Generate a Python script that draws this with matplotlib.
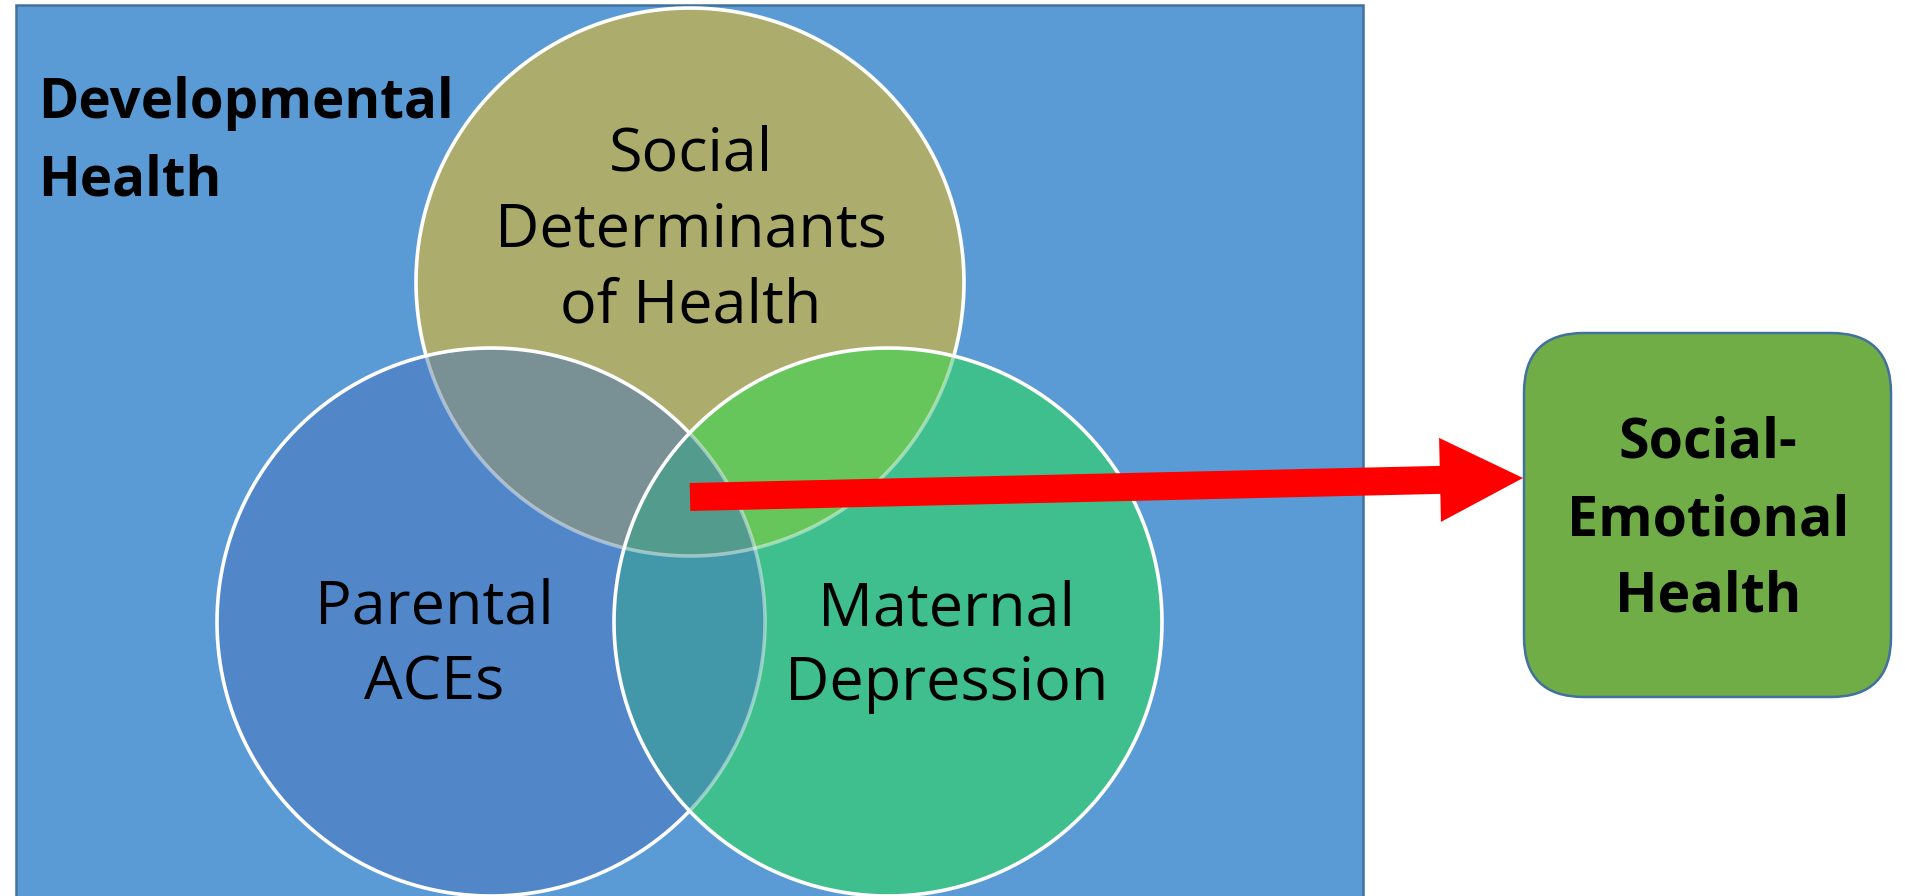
import numpy as np
import matplotlib
matplotlib.use("Agg")
import matplotlib.pyplot as plt
from matplotlib.patches import Circle, Rectangle, FancyBboxPatch, FancyArrow, Polygon

# ---- content ----
context_label = ["Developmental", "Health"]
set_labels = {
    "top": ["Social", "Determinants", "of Health"],
    "left": ["Parental", "ACEs"],
    "right": ["Maternal", "Depression"],
}
outcome_label = ["Social-", "Emotional", "Health"]

# ---- figure in pixel coordinates ----
W, H = 1906, 896
fig = plt.figure(figsize=(W / 100, H / 100), dpi=100)
ax = fig.add_axes([0, 0, 1, 1])
ax.set_xlim(0, W)
ax.set_ylim(H, 0)
ax.set_aspect("equal")
ax.axis("off")

BG_BLUE = "#5B9BD5"
EDGE_BLUE = "#41719C"

# background rectangle
ax.add_patch(Rectangle((16, 5), 1347, 900, facecolor=BG_BLUE, edgecolor=EDGE_BLUE,
                       lw=1.8, zorder=1))

# circles
C_TOP = (690, 282, 274)
C_LEFT = (491, 622, 274)
C_RIGHT = (888, 622, 274)

col_top = "#ACAD6D"
col_left = "#5186C9"
col_right = "#40BF8E"
col_tl = "#799094"
col_tr = "#66C65C"
col_lr = "#4297A8"
col_all = "#539B8C"


def circ(c, **kw):
    return Circle((c[0], c[1]), c[2], **kw)


def inside(px, py, c):
    return (px - c[0]) ** 2 + (py - c[1]) ** 2 < c[2] ** 2


for c, col in [(C_TOP, col_top), (C_LEFT, col_left), (C_RIGHT, col_right)]:
    ax.add_patch(circ(c, facecolor=col, edgecolor="none", zorder=2))

# pairwise overlaps
for c, col, clip in [(C_LEFT, col_tl, circ(C_TOP)), (C_RIGHT, col_tr, circ(C_TOP)),
                     (C_RIGHT, col_lr, circ(C_LEFT))]:
    p = circ(c, facecolor=col, edgecolor="none", zorder=3)
    ax.add_patch(p)
    clip.set_transform(ax.transData)
    p.set_clip_path(clip)

# triple intersection: lens of left & right, clipped by top
t = np.linspace(0, 2 * np.pi, 2000)
lx = C_LEFT[0] + C_LEFT[2] * np.cos(t)
ly = C_LEFT[1] + C_LEFT[2] * np.sin(t)
rx = C_RIGHT[0] + C_RIGHT[2] * np.cos(t)
ry = C_RIGHT[1] + C_RIGHT[2] * np.sin(t)
m1 = inside(lx, ly, C_RIGHT)
m2 = inside(rx, ry, C_LEFT)
pts = np.vstack([np.column_stack([lx[m1], ly[m1]]), np.column_stack([rx[m2], ry[m2]])])
cx_l = (C_LEFT[0] + C_RIGHT[0]) / 2
ang = np.arctan2(pts[:, 1] - C_LEFT[1], pts[:, 0] - cx_l)
pts = pts[np.argsort(ang)]
lens = Polygon(pts, closed=True, facecolor=col_all, edgecolor="none", zorder=4)
ax.add_patch(lens)
ct = circ(C_TOP)
ct.set_transform(ax.transData)
lens.set_clip_path(ct)


# outlines: solid white, translucent where covered by later circles
def outline(c, covers, z):
    th = np.linspace(0, 2 * np.pi, 3000)
    x = c[0] + c[2] * np.cos(th)
    y = c[1] + c[2] * np.sin(th)
    cov = np.zeros_like(x, dtype=bool)
    for cc in covers:
        cov |= inside(x, y, cc)
    xs = np.ma.masked_where(cov, x)
    ax.plot(xs, y, color="white", lw=2.6, zorder=z, solid_capstyle="butt")
    xc = np.ma.masked_where(~cov, x)
    ax.plot(xc, y, color="white", alpha=0.45, lw=2.6, zorder=z, solid_capstyle="butt")


outline(C_TOP, [C_LEFT, C_RIGHT], 5)
outline(C_LEFT, [C_RIGHT], 6)
outline(C_RIGHT, [], 7)

# texts
bold_font = "Open Sans"
reg_font = "Open Sans"

for txt, yb in zip(context_label, [118, 195]):
    ax.text(38, yb, txt, fontsize=39.3, fontweight="bold", family=bold_font,
            ha="left", va="baseline", color="black", zorder=10)

for txt, yb in zip(set_labels["top"], [170, 246, 322]):
    ax.text(691, yb, txt, fontsize=44, family=reg_font, ha="center", va="baseline",
            color="black", zorder=10)
for txt, yb in zip(set_labels["left"], [624, 700]):
    ax.text(434, yb, txt, fontsize=44, family=reg_font, ha="center", va="baseline",
            color="black", zorder=10)
for txt, yb in zip(set_labels["right"], [625, 700]):
    ax.text(947, yb, txt, fontsize=44, family=reg_font, ha="center", va="baseline",
            color="black", zorder=10)

# outcome box
R = 60
ax.add_patch(FancyBboxPatch((1524 + R, 333 + R), 367 - 2 * R, 364 - 2 * R,
                            boxstyle=f"round,pad={R}", facecolor="#70AD47",
                            edgecolor=EDGE_BLUE, lw=1.8, zorder=2))
for txt, yb in zip(outcome_label, [458, 535, 612]):
    ax.text(1708, yb, txt, fontsize=40, fontweight="bold", family=bold_font,
            ha="center", va="baseline", color="black", zorder=10)

# arrow
ax.add_patch(FancyArrow(690, 497, 1523 - 690, 478 - 497, width=28, head_width=84,
                        head_length=83, length_includes_head=True,
                        facecolor="#FF0000", edgecolor="none", zorder=12))

fig.savefig("out.png", dpi=100, facecolor="white")
